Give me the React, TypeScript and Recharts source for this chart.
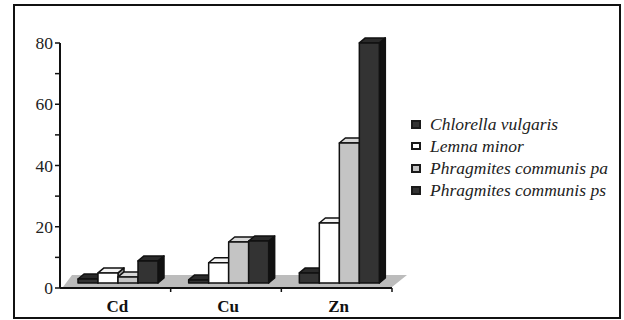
import { BarChart, Bar, XAxis, YAxis, ReferenceArea, Legend } from "recharts";

// metal uptake per plant species
const metals = ["Cd", "Cu", "Zn"];
const chlorella = [1.3, 1, 3.3];
const lemna = [3.3, 6.6, 19.6];
const phragmitesPa = [2, 13.4, 45.7];
const phragmitesPs = [7.2, 13.7, 78.4];
const yTicks = [0, 10, 20, 30, 40, 50, 60, 70, 80];

const data = metals.map((metal, i) => ({
  metal,
  chlorella: chlorella[i],
  lemna: lemna[i],
  pa: phragmitesPa[i],
  ps: phragmitesPs[i],
}));

const series = [
  { key: "chlorella", name: "Chlorella vulgaris", front: "#333333", top: "#2a2a2a", side: "#111111" },
  { key: "lemna", name: "Lemna minor", front: "#ffffff", top: "#f4f4f4", side: "#9a9a9a" },
  { key: "pa", name: "Phragmites communis pa", front: "#c4c4c4", top: "#d8d8d8", side: "#777777" },
  { key: "ps", name: "Phragmites communis ps", front: "#333333", top: "#2a2a2a", side: "#111111" },
];

const W = 624;
const H = 320;
const PLOT_LEFT = 60;
const PLOT_RIGHT = 392;
const PLOT_TOP = 43;
const PLOT_BOTTOM = 288;
const BAND = (PLOT_RIGHT - PLOT_LEFT) / metals.length;

// 3D box offsets
const DX = 6;
const DY = 5;
const SHIFT_X = 3;
const SHIFT_Y = 5;

const serif = "'Liberation Serif', 'Times New Roman', serif";

function Box3D(props: any) {
  const { x, y, width, height, colors } = props;
  if (width == null || height == null) return null;
  const x0 = x + SHIFT_X;
  const y0 = y - SHIFT_Y;
  const w = width;
  const h = height;
  const side = `${x0 + w},${y0} ${x0 + w + DX},${y0 - DY} ${x0 + w + DX},${y0 + h - DY} ${x0 + w},${y0 + h}`;
  const top = `${x0},${y0} ${x0 + DX},${y0 - DY} ${x0 + w + DX},${y0 - DY} ${x0 + w},${y0}`;
  return (
    <g stroke="#111" strokeWidth={1.5} strokeLinejoin="round">
      <polygon points={side} fill={colors.side} />
      <polygon points={top} fill={colors.top} />
      <rect x={x0} y={y0} width={w} height={h} fill={colors.front} />
    </g>
  );
}

function Floor(props: any) {
  const { x, width, y, height } = props;
  const base = y + height;
  const left = x;
  const right = x + width;
  const pts = `${left + 3},${base - 1} ${right},${base - 1} ${right + 15},${base - 13} ${left + 12},${base - 13}`;
  return <polygon points={pts} fill="#bcbcbc" stroke="none" />;
}

function YTick({ x, y, payload }: any) {
  if (payload.value % 20 !== 0) return null;
  return (
    <text x={x} y={y} dy={6} textAnchor="end" fontFamily={serif} fontSize={17.5} fill="#222">
      {payload.value}
    </text>
  );
}

function XTick({ x, y, payload }: any) {
  const edge = x + BAND / 2;
  return (
    <g>
      <line x1={edge} y1={y} x2={edge} y2={y + 4} stroke="#111" strokeWidth={1.5} />
      <text x={x + 2} y={y + 24} textAnchor="middle" fontFamily={serif} fontSize={17} fontWeight="bold" fill="#111">
        {payload.value}
      </text>
    </g>
  );
}

function LegendBox() {
  return (
    <div style={{ fontFamily: serif, fontSize: 17.5, fontStyle: "italic", color: "#222" }}>
      {series.map((s) => (
        <div key={s.key} style={{ display: "flex", alignItems: "center", height: 22 }}>
          <span
            style={{
              display: "inline-block",
              width: 10,
              height: s.key === "lemna" ? 8 : 9,
              boxSizing: "border-box",
              border: "2px solid #1a1a1a",
              background: s.front,
              marginRight: 9,
            }}
          />
          <span>{s.name}</span>
        </div>
      ))}
    </div>
  );
}

export default function App() {
  return (
    <div style={{ position: "absolute", left: 0, top: 0, width: W, height: H, background: "#fff" }}>
      <BarChart
        width={W}
        height={H}
        data={data}
        margin={{ top: PLOT_TOP, right: W - PLOT_RIGHT, bottom: 0, left: 8 }}
        barCategoryGap={15}
        barGap={0}
      >
        <ReferenceArea y1={0} y2={4} ifOverflow="visible" shape={<Floor />} />
        <XAxis
          dataKey="metal"
          height={H - PLOT_BOTTOM}
          tickLine={false}
          tickSize={0}
          tickMargin={0}
          tick={<XTick />}
          axisLine={{ stroke: "#111", strokeWidth: 2 }}
          interval={0}
        />
        <YAxis
          width={52}
          domain={[0, 80]}
          ticks={yTicks}
          interval={0}
          tickSize={5}
          tickMargin={2}
          tick={<YTick />}
          tickLine={{ stroke: "#111", strokeWidth: 1.5 }}
          axisLine={{ stroke: "#111", strokeWidth: 2 }}
        />
        <Legend
          layout="horizontal"
          verticalAlign="middle"
          align="center"
          content={<LegendBox />}
          wrapperStyle={{ left: 411, top: 113, width: "auto" }}
        />
        {series.map((s) => (
          <Bar
            key={s.key}
            dataKey={s.key}
            name={s.name}
            fill={s.front}
            isAnimationActive={false}
            shape={(p: any) => <Box3D {...p} colors={s} />}
          />
        ))}
      </BarChart>
      <div
        style={{
          position: "absolute",
          left: 13,
          top: 4,
          width: 608,
          height: 315,
          boxSizing: "border-box",
          border: "2px solid #111",
          pointerEvents: "none",
        }}
      />
    </div>
  );
}
